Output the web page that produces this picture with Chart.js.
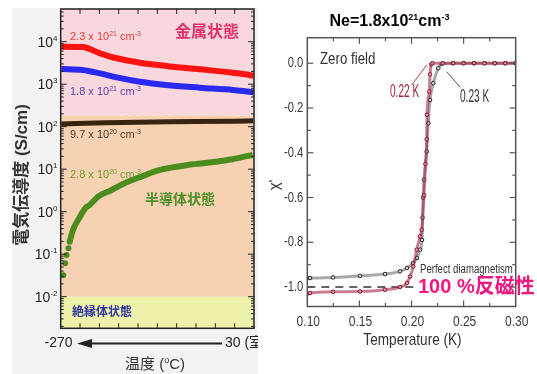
<!DOCTYPE html>
<html><head><meta charset="utf-8">
<script src="https://cdn.jsdelivr.net/npm/chart.js@4.4.1/dist/chart.umd.min.js"></script>
<style>
html,body{margin:0;padding:0;background:#fff;width:537px;height:374px;overflow:hidden}
#left{position:absolute;left:0;top:0}
#right{position:absolute;left:258px;top:0}
</style></head><body>
<canvas id="left" width="258" height="374"></canvas>
<canvas id="right" width="279" height="374"></canvas>
<script>
// ===== LEFT PANEL DATA (conductivity, S/cm, vs temperature °C) =====
const tempTicks=[-270,-240,-210,-180,-150,-120,-90,-60,-30,0,30];
const decades=[-2,-1,0,1,2,3,4];
const METAL_EDGE=182, INSUL_EDGE=0.01;   // band boundaries (S/cm)

const redT=[-269,-236,-209,-183,-147,-106,-54,-3,23,29];
const redS=[7600,7500,5330,4070,3200,2680,2240,1860,1650,1580];
const blueT=[-269,-236,-209,-183,-147,-106,-54,-3,23,29];
const blueS=[2280,2160,1800,1450,1145,957,828,731,666,640];
const brownT=[-269,-200,-100,0,29];
const brownS=[116,124,130,135,138];
const greenDotT=[-266,-263,-261,-258,-256];
const greenDotS=[0.032,0.061,0.096,0.138,0.197];
const greenT=[-256,-251,-240,-232,-225,-212,-191,-171,-145,-116,-65,-29,-4,23,28];
const greenS=[0.197,0.37,0.76,1.2,1.44,2.25,3.24,4.66,6.66,9.6,13.0,15.0,17.1,20.8,21.5];

// ===== RIGHT PANEL DATA (chi' vs T, K) =====
const kMajor=[0.10,0.15,0.20,0.25,0.30];
const kMinor=[0.125,0.175,0.225,0.275];
const chiMajor=[0,-0.2,-0.4,-0.6,-0.8,-1.0];
const chiMinor=[-0.1,-0.3,-0.5,-0.7,-0.9];

const blkT=[0.100,0.1026,0.1247,0.1506,0.1746,0.1890,0.1957,0.2014,0.2053,0.2082,0.2101,0.2106,0.2111,0.2120,0.2146,0.2161,0.2178,0.2209,0.2257,0.2290,0.24,0.25,0.26,0.27,0.28,0.29,0.30];
const blkX=[-0.96,-0.96,-0.957,-0.95,-0.942,-0.93,-0.915,-0.893,-0.87,-0.833,-0.79,-0.69,-0.60,-0.52,-0.395,-0.268,-0.164,-0.089,-0.022,-0.003,0,0,0,0,0,0,0];
const redKT=[0.100,0.1026,0.1247,0.1506,0.1746,0.1890,0.1957,0.1986,0.2017,0.2050,0.2082,0.2098,0.2120,0.2134,0.2146,0.2149,0.2171,0.2178,0.2190,0.22,0.23,0.24,0.25,0.26,0.27,0.28,0.29,0.30];
const redKX=[-1.03,-1.027,-1.021,-1.02,-1.012,-1.0,-0.982,-0.953,-0.908,-0.833,-0.774,-0.744,-0.59,-0.45,-0.34,-0.23,-0.127,-0.05,-0.005,0,0,0,0,0,0,0,0,0];
const dashT=[0.10,0.2035];
const dashX=[-1.0,-1.0];

const LAT="'Liberation Sans',Arial,sans-serif";
const MIX="'Liberation Sans','Noto Sans CJK JP',sans-serif";
const pts=(xs,ys)=>xs.map((x,i)=>({x:x,y:ys[i]}));

// text helpers
function txt(g,s,x,y,font,color,align,sx){
  g.save();g.font=font;g.fillStyle=color;g.textBaseline='middle';g.textAlign=align||'left';
  g.translate(x,y);g.scale(sx||1,1);g.fillText(s,0,0);g.restore();
}
// segs: [text,size,rise]; y = baseline
function rich(g,segs,x,y,color,align,weight,sx){
  weight=weight||'normal';sx=sx||1;
  g.save();g.fillStyle=color;g.textBaseline='alphabetic';g.textAlign='left';
  let w=0;segs.forEach(s=>{g.font=weight+' '+s[1]+'px '+MIX;w+=g.measureText(s[0]).width;});
  w*=sx;
  let cx=align==='center'?x-w/2:align==='right'?x-w:x;
  g.translate(cx,y);g.scale(sx,1);
  let px=0;
  segs.forEach(s=>{g.font=weight+' '+s[1]+'px '+MIX;g.fillText(s[0],px,-(s[2]||0));px+=g.measureText(s[0]).width;});
  g.restore();
}
function line(g,x1,y1,x2,y2,c,w){g.save();g.strokeStyle=c;g.lineWidth=w;g.beginPath();g.moveTo(x1,y1);g.lineTo(x2,y2);g.stroke();g.restore();}

// ===== LEFT CHART =====
const leftDeco={id:'leftDeco',
  beforeDraw(c){
    const g=c.ctx,a=c.chartArea,y=c.scales.y;
    g.save();
    g.fillStyle='#fff';g.fillRect(0,0,c.width,c.height);
    g.fillStyle='#f3f3f3';g.fillRect(12,8,c.width-12,c.height-8);
    const yM=y.getPixelForValue(METAL_EDGE),yI=y.getPixelForValue(INSUL_EDGE);
    g.fillStyle='#F8D7DD';g.fillRect(a.left,a.top,a.right-a.left,yM-a.top);
    g.fillStyle='#F6D2B3';g.fillRect(a.left,yM,a.right-a.left,yI-yM);
    g.fillStyle='#EDF1A9';g.fillRect(a.left,yI,a.right-a.left,a.bottom-yI);
    g.restore();
  },
  afterDraw(c){
    const g=c.ctx,a=c.chartArea,x=c.scales.x,y=c.scales.y;
    const K='#222';
    g.save();g.strokeStyle=K;g.lineWidth=1.5;g.strokeRect(a.left,a.top,a.right-a.left,a.bottom-a.top);g.restore();
    // x ticks (bottom up, top down)
    tempTicks.slice(1,-1).forEach(t=>{const px=x.getPixelForValue(t);
      line(g,px,a.bottom,px,a.bottom-5,K,1);line(g,px,a.top,px,a.top+5,K,1);});
    // y ticks, log minors
    for(let d=-3;d<=4;d++){for(let m=1;m<=9;m++){const v=m*Math.pow(10,d);
      if(v<y.min||v>y.max)continue;const py=y.getPixelForValue(v);const L=m===1?6:3;
      line(g,a.left,py,a.left+L,py,K,1);line(g,a.right,py,a.right-L,py,K,1);}}
    // y tick labels 10^n
    decades.forEach(d=>{const py=y.getPixelForValue(Math.pow(10,d));
      rich(g,[['10',14],[String(d),8,6]],57.5,py+5,K,'right');});
    // y title
    g.save();g.translate(22,175);g.rotate(-Math.PI/2);
    txt(g,'電気伝導度 (S/cm)',0,0,'bold 17px '+MIX,'#333','center');g.restore();
    // x annotations
    txt(g,'-270',58.5,343.5,'14px '+LAT,K,'center');
    txt(g,'30 (室温)',225,343.5,'14px '+MIX,K,'left');
    line(g,222,343.5,88,343.5,K,2);
    g.save();g.fillStyle=K;g.beginPath();g.moveTo(77,343.5);g.lineTo(92,339);g.lineTo(92,348);g.closePath();g.fill();g.restore();
    rich(g,[['温度 (',15],['o',9,6],['C)',15]],155,369,'#333','center');
    // state labels
    txt(g,'金属状態',175,33,'bold 16px '+MIX,'#E3306A','left');
    txt(g,'半導体状態',145,200,'bold 14px '+MIX,'#4E8E2A','left');
    txt(g,'絶縁体状態',72,313,'bold 12px '+MIX,'#33399E','left');
    // series labels
    rich(g,[['2.3 x 10',11],['21',7,4],[' cm',11],['-3',7,4]],70,40,'#EE3B3B','left');
    rich(g,[['1.8 x 10',11],['21',7,4],[' cm',11],['-3',7,4]],70,95,'#5840B5','left');
    rich(g,[['9.7 x 10',11],['20',7,4],[' cm',11],['-3',7,4]],70,138,'#4A3A2A','left');
    rich(g,[['2.8 x 10',11],['20',7,4],[' cm',11],['-3',7,4]],70,178,'#6C9C32','left');
  }
};

new Chart(document.getElementById('left'),{type:'scatter',
  data:{datasets:[
    {data:pts(redT,redS),showLine:true,borderColor:'#FF1212',borderWidth:6,pointRadius:0,cubicInterpolationMode:'monotone'},
    {data:pts(blueT,blueS),showLine:true,borderColor:'#2A2AF2',borderWidth:6,pointRadius:0,cubicInterpolationMode:'monotone'},
    {data:pts(brownT,brownS),showLine:true,borderColor:'#3A2410',borderWidth:5,pointRadius:0,cubicInterpolationMode:'monotone'},
    {data:pts(greenT,greenS),showLine:true,borderColor:'#4C8C1E',borderWidth:6,pointRadius:0,cubicInterpolationMode:'monotone'},
    {data:pts(greenDotT,greenDotS),showLine:false,pointRadius:3,pointBackgroundColor:'#4C8C1E',pointBorderWidth:0}
  ]},
  options:{responsive:false,animation:false,events:[],
    layout:{padding:{left:0,right:3.5,top:9,bottom:0}},
    plugins:{legend:{display:false},tooltip:{enabled:false}},
    scales:{
      x:{type:'linear',min:-270,max:30,grid:{display:false},border:{display:false},ticks:{display:false},afterFit:s=>{s.height=45.7;}},
      y:{type:'logarithmic',min:Math.pow(10,-2.744),max:Math.pow(10,4.769),grid:{display:false},border:{display:false},ticks:{display:false},afterFit:s=>{s.width=60.7;}}
    }},
  plugins:[leftDeco]});

// ===== RIGHT CHART =====
const rightDeco={id:'rightDeco',
  beforeDraw(c){const g=c.ctx;g.save();g.fillStyle='#fff';g.fillRect(0,0,c.width,c.height);g.restore();},
  afterDraw(c){
    const g=c.ctx,a=c.chartArea,x=c.scales.x,y=c.scales.y;
    const K='#555',T='#3a3a3a';
    g.save();g.strokeStyle=K;g.lineWidth=1.5;g.strokeRect(a.left,a.top,a.right-a.left,a.bottom-a.top);g.restore();
    kMajor.concat(kMinor).forEach(v=>{const px=x.getPixelForValue(v);const L=kMajor.includes(v)?6:3.5;
      if(px<=a.left+1||px>=a.right-1)return;
      line(g,px,a.bottom,px,a.bottom-L,K,1.2);line(g,px,a.top,px,a.top+L,K,1.2);});
    chiMajor.concat(chiMinor).forEach(v=>{const py=y.getPixelForValue(v);const L=chiMajor.includes(v)?6:3.5;
      line(g,a.left,py,a.left+L,py,K,1.2);line(g,a.right,py,a.right-L,py,K,1.2);});
    kMajor.forEach(v=>txt(g,v.toFixed(2),x.getPixelForValue(v)+1,321.7,'15px '+LAT,T,'center',0.8));
    chiMajor.forEach(v=>txt(g,v.toFixed(1),a.left-4,y.getPixelForValue(v),'15px '+LAT,T,'right',0.75));
    txt(g,'Temperature (K)',154.5,340,'17px '+LAT,'#333','center',0.8);
    g.save();g.translate(17,185);g.rotate(-Math.PI/2);txt(g,"χ'",0,0,'15px '+LAT,'#333','center');g.restore();
    // title
    rich(g,[['Ne=1.8x10',16],['21',9,6],['cm',16],['-3',9,6]],131.5,26,'#000','center','bold');
    // annotations
    txt(g,'Zero field',62,60,'16px '+LAT,'#333','left',0.83);
    txt(g,'0.22 K',132,92,'18px '+LAT,'#9B2235','left',0.56);
    line(g,153.7,85,168.7,65,'#B04050',1);
    txt(g,'0.23 K',202,97,'18px '+LAT,'#333','left',0.56);
    line(g,202,87,188.7,71.7,'#555',1);
    txt(g,'Perfect diamagnetism',162,269.5,'12px '+LAT,'#333','left',0.8);
    txt(g,'100 %反磁性',160,287,'bold 20px '+MIX,'#F0187E','left');
  }
};

new Chart(document.getElementById('right'),{type:'scatter',
  data:{datasets:[
    {data:pts(redKT,redKX),showLine:true,borderColor:'rgba(160,40,70,0.6)',borderWidth:3,pointRadius:1.8,pointBorderWidth:1,pointBorderColor:'#8B1028',pointBackgroundColor:'rgba(240,180,195,0.6)',cubicInterpolationMode:'monotone'},
    {data:pts(blkT,blkX),showLine:true,borderColor:'rgba(110,110,110,0.6)',borderWidth:3,pointRadius:1.8,pointBorderWidth:1,pointBorderColor:'#222',pointBackgroundColor:'rgba(255,255,255,0.6)',cubicInterpolationMode:'monotone'},
    {data:pts(dashT,dashX),showLine:true,borderColor:'#333',borderWidth:1.5,borderDash:[8,6],pointRadius:0}
  ]},
  options:{responsive:false,animation:false,events:[],
    layout:{padding:{left:0,right:21.3,top:37.7,bottom:0}},
    plugins:{legend:{display:false},tooltip:{enabled:false}},
    scales:{
      x:{type:'linear',min:0.10,max:0.30,grid:{display:false},border:{display:false},ticks:{display:false},afterFit:s=>{s.height=67.5;}},
      y:{type:'linear',min:-1.087,max:0.114,grid:{display:false},border:{display:false},ticks:{display:false},afterFit:s=>{s.width=49.3;}}
    }},
  plugins:[rightDeco]});
</script>
</body></html>
